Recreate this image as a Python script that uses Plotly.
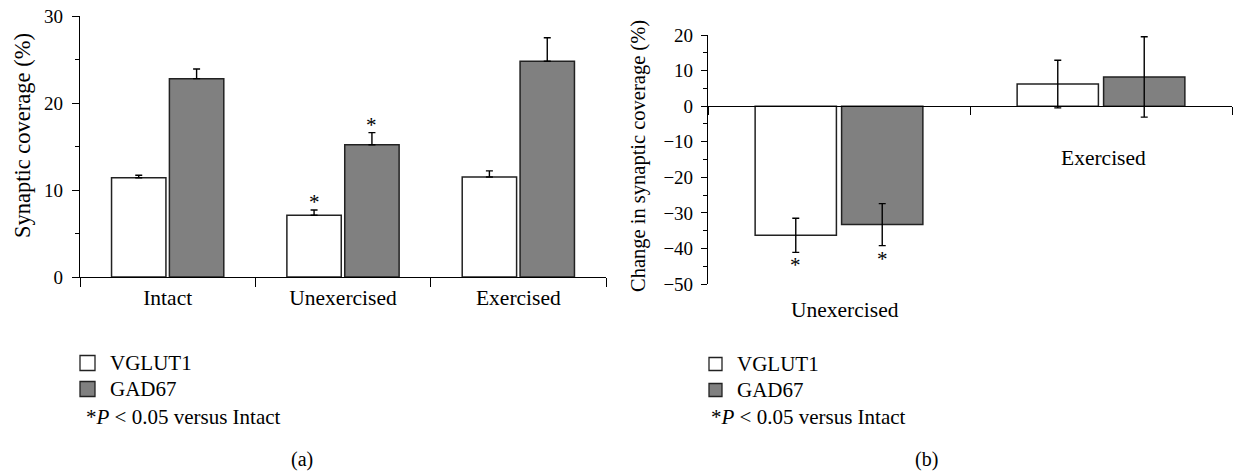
import plotly.graph_objects as go

W, H = 1233, 471
FONT = "Liberation Serif"

# ---------------- data ----------------
categories_a = ["Intact", "Unexercised", "Exercised"]
vglut1_a = [11.4, 7.1, 11.5]
vglut1_a_err = [0.3, 0.6, 0.7]
gad67_a = [22.8, 15.2, 24.8]
gad67_a_err = [1.1, 1.4, 2.7]
sig_vglut1_a = [False, True, False]
sig_gad67_a = [False, True, False]

categories_b = ["Unexercised", "Exercised"]
vglut1_b = [-36.3, 6.2]
vglut1_b_err = [4.8, 6.7]
gad67_b = [-33.3, 8.2]
gad67_b_err = [5.9, 11.3]
sig_vglut1_b = [True, False]
sig_gad67_b = [True, False]

yticks_a = [0, 10, 20, 30]
yticks_b = [20, 10, 0, -10, -20, -30, -40, -50]

series_names = ["VGLUT1", "GAD67"]
legend_note = "*<i>P</i> &lt; 0.05 versus Intact"

# ---------------- helpers ----------------
def px(x):
    return x / W

def py(y):
    return 1 - y / H

WHITE = "#ffffff"
GRAY = "#808080"
EDGE = "#222222"

# panel geometry (pixels)
ax_a_left, ax_a_right = 80, 606
ax_a_top, ax_a_bottom = 16, 277
ax_b_left, ax_b_right = 708, 1232
ax_b_top, ax_b_bottom = 35, 284
yrange_a = [0, 30]
yrange_b = [-50, 20]
BARGAP = 0.34
GROUPGAP = 0.06

zero_b_px = ax_b_top + (yrange_b[1] - 0) / (yrange_b[1] - yrange_b[0]) * (ax_b_bottom - ax_b_top)

fig = go.Figure()

def err(arr, minus=None):
    d = dict(type="data", array=arr, color="black", thickness=1.4, width=3.5)
    if minus is not None:
        d["symmetric"] = False
        d["arrayminus"] = minus
    return d

fig.add_trace(go.Bar(x=categories_a, y=vglut1_a, name=series_names[0], xaxis="x", yaxis="y",
                     marker=dict(color=WHITE, line=dict(color=EDGE, width=1.5)),
                     error_y=err(vglut1_a_err, [0] * len(vglut1_a)), showlegend=False))
fig.add_trace(go.Bar(x=categories_a, y=gad67_a, name=series_names[1], xaxis="x", yaxis="y",
                     marker=dict(color=GRAY, line=dict(color=EDGE, width=1.5)),
                     error_y=err(gad67_a_err, [0] * len(gad67_a)), showlegend=False))
fig.add_trace(go.Bar(x=categories_b, y=vglut1_b, name=series_names[0], xaxis="x2", yaxis="y2",
                     marker=dict(color=WHITE, line=dict(color=EDGE, width=1.5)),
                     error_y=err(vglut1_b_err), showlegend=False))
fig.add_trace(go.Bar(x=categories_b, y=gad67_b, name=series_names[1], xaxis="x2", yaxis="y2",
                     marker=dict(color=GRAY, line=dict(color=EDGE, width=1.5)),
                     error_y=err(gad67_b_err), showlegend=False))

tickfont = dict(family=FONT, size=19, color="black")

fig.update_layout(
    template="none",
    width=W, height=H,
    margin=dict(l=0, r=0, t=0, b=0, pad=0),
    paper_bgcolor="white", plot_bgcolor="white",
    barmode="group", bargap=BARGAP, bargroupgap=GROUPGAP,
    font=dict(family=FONT, size=19, color="black"),
    showlegend=False,
    xaxis=dict(domain=[px(ax_a_left), px(ax_a_right)], anchor="y", automargin=False,
               type="category", range=[-0.5, 2.5],
               showline=True, linecolor="black", linewidth=1.2,
               ticks="outside", tickson="boundaries", ticklen=9, tickwidth=1.2, tickcolor="black",
               showgrid=False, zeroline=False, tickfont=dict(family=FONT, size=21.5, color="black"),
               ticklabelstandoff=1),
    yaxis=dict(domain=[py(ax_a_bottom), py(ax_a_top)], anchor="x", range=yrange_a, automargin=False,
               tickvals=yticks_a, showline=True, linecolor="black", linewidth=1.2,
               ticks="outside", ticklen=7, tickwidth=1.2, tickcolor="black",
               minor=dict(dtick=5, ticks="outside", ticklen=4, tickwidth=1.2, tickcolor="black", showgrid=False),
               showgrid=False, zeroline=False, tickfont=tickfont, ticklabelstandoff=5),
    xaxis2=dict(domain=[px(ax_b_left), px(ax_b_right)], anchor="free", position=py(zero_b_px),
                automargin=False, type="category", range=[-0.5, 1.5],
                showline=True, linecolor="black", linewidth=1.2,
                ticks="outside", tickson="boundaries", ticklen=8, tickwidth=1.2, tickcolor="black",
                showgrid=False, zeroline=False, showticklabels=False),
    yaxis2=dict(domain=[py(ax_b_bottom), py(ax_b_top)], anchor="x2", range=yrange_b, automargin=False,
                tickvals=yticks_b, showline=True, linecolor="black", linewidth=1.2,
                ticks="outside", ticklen=6, tickwidth=1.2, tickcolor="black",
                minor=dict(dtick=5, ticks="outside", ticklen=4, tickwidth=1.2, tickcolor="black", showgrid=False),
                showgrid=False, zeroline=False, tickfont=tickfont, ticklabelstandoff=4),
)

annotations = []
shapes = []

def note(text, x, y, size, **kw):
    d = dict(text=text, x=x, y=y, xref="paper", yref="paper", showarrow=False,
             xanchor="center", yanchor="middle", font=dict(family=FONT, size=size, color="black"))
    d.update(kw)
    annotations.append(d)

# axis titles
note("Synaptic coverage (%)", px(23), py(136), 22.5, textangle=-90)
note("Change in synaptic coverage (%)", px(639), py(156), 20.5, textangle=-90)

# category labels for panel b
note(categories_b[0], categories_b[0], py(310), 21.5, xref="x2", xshift=6)
note(categories_b[1], categories_b[1], py(158), 21.5, xref="x2", xshift=2)

# significance asterisks
slot_a = (ax_a_right - ax_a_left) / 3 * (1 - BARGAP) / 2
slot_b = (ax_b_right - ax_b_left) / 2 * (1 - BARGAP) / 2
for i, c in enumerate(categories_a):
    if sig_vglut1_a[i]:
        note("*", c, vglut1_a[i] + vglut1_a_err[i], 21, xref="x", yref="y",
             xshift=-slot_a / 2, yanchor="bottom", yshift=-6)
    if sig_gad67_a[i]:
        note("*", c, gad67_a[i] + gad67_a_err[i], 21, xref="x", yref="y",
             xshift=slot_a / 2, yanchor="bottom", yshift=-6)
for i, c in enumerate(categories_b):
    if sig_vglut1_b[i]:
        note("*", c, vglut1_b[i] - vglut1_b_err[i], 21, xref="x2", yref="y2",
             xshift=-slot_b / 2, yanchor="top", yshift=1)
    if sig_gad67_b[i]:
        note("*", c, gad67_b[i] - gad67_b_err[i], 21, xref="x2", yref="y2",
             xshift=slot_b / 2, yanchor="top", yshift=1)

# legends
def add_legend(x0, box, ys, note_x, note_y):
    colors = [WHITE, GRAY]
    for name, col, yc in zip(series_names, colors, ys):
        shapes.append(dict(type="rect", xref="paper", yref="paper",
                           x0=px(x0), x1=px(x0 + box), y0=py(yc + box / 2), y1=py(yc - box / 2),
                           fillcolor=col, line=dict(color=EDGE, width=1.3)))
        note(name, px(x0 + box + 13), py(yc), 21, xanchor="left")
    note(legend_note, px(note_x), py(note_y), 21, xanchor="left")

add_legend(80, 15, [363, 389], 84, 417)
add_legend(709, 13, [364, 390], 709, 417)

note("(a)", px(302), py(459), 20)
note("(b)", px(926), py(459), 20)

fig.update_layout(annotations=annotations, shapes=shapes)
fig.write_html("out.html", config={"displayModeBar": False, "responsive": False},
               post_script="document.body.style.margin='0';")
